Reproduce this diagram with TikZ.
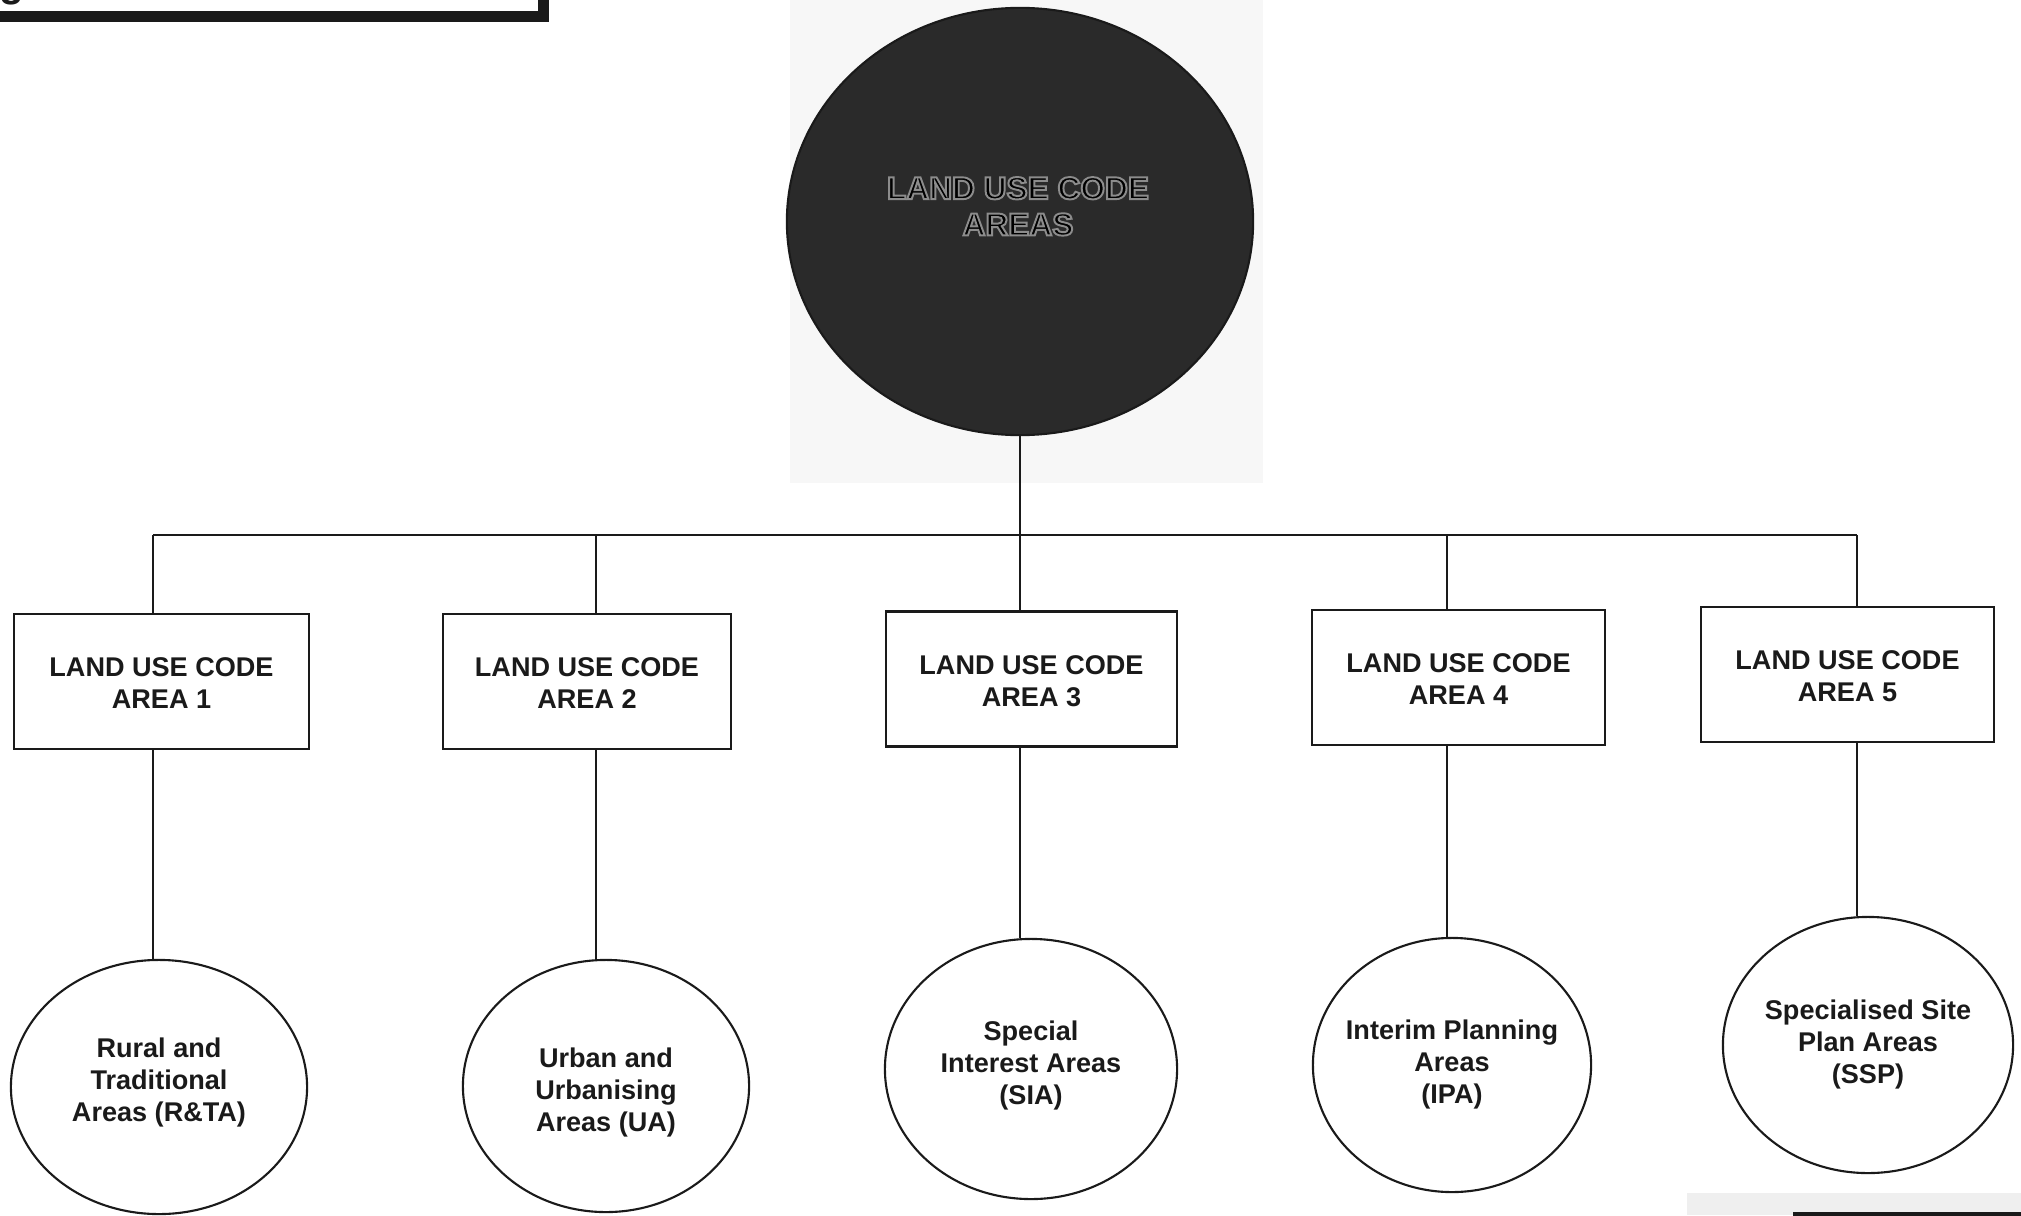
\documentclass[tikz,border=0pt]{standalone}
\usepackage{fontspec}
\setmainfont{Liberation Sans}
\usetikzlibrary{shapes.geometric}
\definecolor{ink}{HTML}{1A1A1A}
\definecolor{bigfill}{HTML}{2A2A2A}
\definecolor{halo}{HTML}{F7F7F7}
\definecolor{scan}{HTML}{EFEFEF}
\newcommand\mlines[1]{\makebox[0pt]{\begin{tabular}{@{}c@{}}#1\end{tabular}}}
\newcommand\shiftv[2]{\raisebox{#1}[\height][\depth]{#2}}
\begin{document}
\begin{tikzpicture}[x=0.01cm,y=-0.01cm,
  lbl/.style={font=\fontsize{7.7}{9.1}\selectfont\bfseries, text=ink},
  areabox/.style={lbl, draw=ink, line width=0.6pt, rectangle, minimum height=1.35cm, align=center, inner sep=0pt},
  areaell/.style={lbl, draw=ink, line width=0.6pt, ellipse, inner sep=0pt},
  link/.style={draw=ink, line width=0.6pt}]
\useasboundingbox (0,0) rectangle (2021,1215);
% light background behind the big circle
\fill[halo] (790,0) rectangle (1263,483);
% scan artefact bottom right
\fill[scan] (1687,1193) rectangle (2021,1215);
\draw[ink, line width=0.04cm] (1793,1214) -- (2021,1214);
% cut-off title box
\node[anchor=base west, inner sep=0pt, font=\fontsize{11.5}{12}\selectfont\bfseries, text=ink] (title) at (-1,-3.5) {g};
\draw[ink, line width=0.11cm] (-10,16.5) -- (543.5,16.5) -- (543.5,-10);

% central circle
\node[ellipse, fill=bigfill, draw=ink, line width=0.6pt, minimum width=4.66cm, minimum height=4.27cm, inner sep=0pt] (big) at (1020,221.5) {};

% bar taps
\coordinate (tap1) at (153,535);
\coordinate (tap2) at (596,535);
\coordinate (tap3) at (1020,535);
\coordinate (tap4) at (1447,535);
\coordinate (tap5) at (1857,535);

% boxes
\node[areabox, minimum width=2.95cm] (b1) at (161.5,681.5) {\shiftv{-0.045cm}{\mlines{LAND USE CODE\\AREA 1}}};
\node[areabox, minimum width=2.88cm] (b2) at (587,681.5) {\shiftv{-0.05cm}{\mlines{LAND USE CODE\\AREA 2}}};
\node[areabox, minimum width=2.91cm] (b3) at (1031.5,679) {\shiftv{-0.05cm}{\mlines{LAND USE CODE\\AREA 3}}};
\node[areabox, minimum width=2.93cm] (b4) at (1458.5,677.5) {\shiftv{-0.05cm}{\mlines{LAND USE CODE\\AREA 4}}};
\node[areabox, minimum width=2.93cm] (b5) at (1847.5,674.5) {\shiftv{-0.05cm}{\mlines{LAND USE CODE\\AREA 5}}};

% ellipses
\node[areaell, minimum width=2.96cm, minimum height=2.54cm] (c1) at (159,1087) {\shiftv{0.035cm}{\mlines{Rural and\\Traditional\\Areas (R\&TA)}}};
\node[areaell, minimum width=2.86cm, minimum height=2.52cm] (c2) at (606,1086) {\shiftv{-0.07cm}{\mlines{Urban and\\Urbanising\\Areas (UA)}}};
\node[areaell, minimum width=2.92cm, minimum height=2.60cm] (c3) at (1031,1069) {\shiftv{0.03cm}{\mlines{Special\\Interest Areas\\(SIA)}}};
\node[areaell, minimum width=2.78cm, minimum height=2.54cm] (c4) at (1452,1065) {\mlines{Interim Planning\\Areas\\(IPA)}};
\node[areaell, minimum width=2.90cm, minimum height=2.56cm] (c5) at (1868,1045) {\mlines{Specialised Site\\Plan Areas\\(SSP)}};

% connectors
\draw[link] (big.south) -- (big.south |- tap3);
\draw[link] (tap1) -- (tap5);
\foreach \i in {1,...,5}{
  \draw[link] (tap\i) -- (tap\i |- b\i.north);
  \draw[link] (tap\i |- b\i.south) -- (tap\i |- c\i.north);
}

% embossed title text of the big circle
\node[inner sep=0pt, font=\fontsize{9}{10.3}\selectfont\bfseries, text=black] (bigtext) at (1018,210)
  {\special{pdf:literal direct 2 Tr 0.55 G 0.55 w}\mlines{LAND USE CODE\\AREAS}\special{pdf:literal direct 0 Tr}};
\end{tikzpicture}
\end{document}
